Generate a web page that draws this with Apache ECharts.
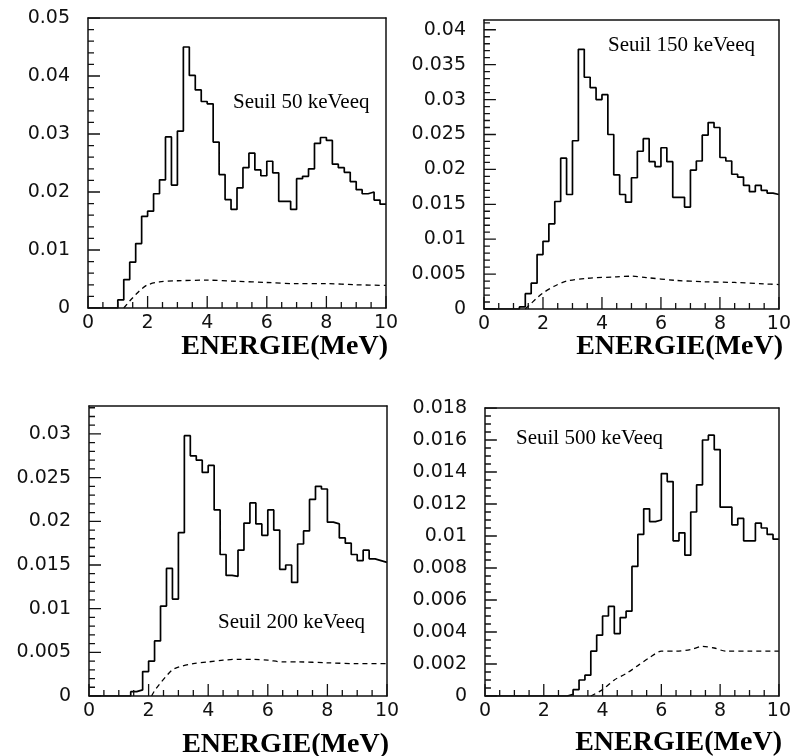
<!DOCTYPE html>
<html>
<head>
<meta charset="utf-8">
<script src="https://cdn.jsdelivr.net/npm/echarts@6/dist/echarts.min.js"></script>
</head>
<body style="margin:0">
<div id="c" style="width:794px;height:756px"></div>
<script>
// Bin lower edges (MeV), plus the upper edge 10 to close the last bin
const binEdges = [0,0.2,0.4,0.6,0.8,1.0,1.2,1.4,1.6,1.8,2.0,2.2,2.4,2.6,2.8,3.0,3.2,3.4,3.6,3.8,
  4.0,4.2,4.4,4.6,4.8,5.0,5.2,5.4,5.6,5.8,6.0,6.2,6.4,6.6,6.8,7.0,7.2,7.4,7.6,7.8,
  8.0,8.2,8.4,8.6,8.8,9.0,9.2,9.4,9.6,9.8,10.0];

const xTickLabels = ['0','2','4','6','8','10'];

// Histogram contents, threshold 50 keVeeq
const hist50 = [0,0,0,0,0,0.0014,0.0049,0.0079,0.0111,0.0158,
  0.0167,0.0197,0.0221,0.0295,0.0212,0.0305,0.0450,0.0401,0.0376,0.0356,
  0.0352,0.0286,0.0230,0.0187,0.0170,0.0207,0.0242,0.0267,0.0238,0.0228,
  0.0253,0.0233,0.0184,0.0184,0.0170,0.0223,0.0227,0.0240,0.0284,0.0294,
  0.0289,0.0248,0.0242,0.0234,0.0218,0.0204,0.0197,0.0200,0.0186,0.0179];
// threshold 150 keVeeq
const hist150 = [0,0,0,0,0,0,0.0003,0.0022,0.0037,0.0078,
  0.0097,0.0122,0.0154,0.0216,0.0164,0.0241,0.0372,0.0332,0.0317,0.0300,
  0.0307,0.0250,0.0192,0.0164,0.0153,0.0188,0.0226,0.0244,0.0211,0.0204,
  0.0231,0.0211,0.0160,0.0160,0.0146,0.0199,0.0212,0.0249,0.0267,0.0260,
  0.0217,0.0212,0.0193,0.0189,0.0177,0.0168,0.0177,0.0170,0.0166,0.0164];
// threshold 200 keVeeq
const hist200 = [0,0,0,0,0,0,0,0.0005,0.0007,0.0028,
  0.0040,0.0063,0.0103,0.0146,0.0111,0.0187,0.0298,0.0275,0.0270,0.0256,
  0.0264,0.0213,0.0162,0.0138,0.0137,0.0167,0.0198,0.0221,0.0197,0.0184,
  0.0213,0.0190,0.0145,0.0150,0.0130,0.0174,0.0189,0.0225,0.0240,0.0237,
  0.0199,0.0197,0.0181,0.0175,0.0162,0.0155,0.0167,0.0157,0.0155,0.0153];
// threshold 500 keVeeq
const hist500 = [0,0,0,0,0,0,0,0,0,0,
  0,0,0,0,0.0001,0.0004,0.0010,0.0013,0.0028,0.0038,
  0.0050,0.0056,0.0039,0.0049,0.0053,0.0081,0.0101,0.0117,0.0109,0.0110,
  0.0139,0.0134,0.0097,0.0102,0.0088,0.0115,0.0132,0.0160,0.0163,0.0154,
  0.0118,0.0118,0.0107,0.0111,0.0097,0.0097,0.0108,0.0105,0.0101,0.0098];

// Dashed curves [energy, value]
const dash50 = [[1.2,0],[1.4,0.0012],[1.6,0.0023],[1.8,0.0033],[2.0,0.0040],[2.4,0.0045],
  [3.0,0.0047],[4.0,0.0048],[5.0,0.0046],[6.0,0.0044],[7.0,0.0042],[8.0,0.0042],[9.0,0.0040],[10.0,0.0039]];
const dash150 = [[1.4,0],[1.6,0.0008],[1.8,0.0016],[2.0,0.0023],[2.4,0.0033],[2.8,0.0040],
  [3.5,0.0044],[4.5,0.0046],[5.0,0.0047],[5.5,0.0045],[6.5,0.0041],[7.5,0.0039],[8.5,0.0038],[9.5,0.0036],[10.0,0.0035]];
const dash200 = [[2.1,0],[2.2,0.0006],[2.4,0.0015],[2.6,0.0023],[2.8,0.0030],[3.0,0.0033],
  [3.5,0.0037],[4.0,0.0039],[4.5,0.0041],[5.0,0.0042],[5.5,0.0042],[6.0,0.0041],[6.5,0.0039],
  [7.0,0.0039],[8.0,0.0038],[9.0,0.0037],[10.0,0.0037]];
const dash500 = [[3.6,0],[4.0,0.0004],[4.4,0.0010],[4.8,0.0014],[5.2,0.0019],[5.6,0.0024],
  [6.0,0.0028],[6.5,0.0028],[7.0,0.0029],[7.4,0.0031],[7.8,0.0030],[8.2,0.0028],[9.0,0.0028],[10.0,0.0028]];

const labels = ['Seuil 50 keVeeq','Seuil 150 keVeeq','Seuil 200 keVeeq','Seuil 500 keVeeq'];
const axisTitle = 'ENERGIE(MeV)';

const yMax = [0.05, 0.0414, 0.0332, 0.018];
const yInterval = [0.01, 0.005, 0.005, 0.002];
const yMinorSplit = [5, 5, 5, 4];
const xInterval = 2, xMinorSplit = 4, xMax = 10;

const grids = [
  {left:88, top:18, width:298, height:290},
  {left:484, top:20, width:297, height:289},
  {left:89, top:406, width:298, height:290},
  {left:485, top:408, width:297, height:288}
];

function histData(vals){
  return binEdges.map((e,i)=>[e, vals[Math.min(i, vals.length-1)]]);
}

// Inside tick marks (PAW style) as short segments, broken apart by NaN gaps
const MAJOR_LEN = 12, MINOR_LEN = 6;
function tickSegments(i){
  const g = grids[i];
  const out = [];
  const xStep = xInterval / xMinorSplit;
  for (let k = 0; k * xStep <= xMax + 1e-9; k++) {
    const v = k * xStep;
    const len = (k % xMinorSplit === 0) ? MAJOR_LEN : MINOR_LEN;
    out.push([v, 0], [v, len / g.height * yMax[i]], [NaN, NaN]);
  }
  const yStep = yInterval[i] / yMinorSplit[i];
  for (let k = 0; k * yStep <= yMax[i] + 1e-12; k++) {
    const v = k * yStep;
    const len = (k % yMinorSplit[i] === 0) ? MAJOR_LEN : MINOR_LEN;
    out.push([0, v], [len / g.width * xMax, v], [NaN, NaN]);
  }
  return out;
}

const FONT = 'DejaVu Sans';
const FS = 19;
const ink = '#111';

const xAxes = [];
const yAxes = [];
grids.forEach((g,i)=>{
  xAxes.push({
    type:'value', gridIndex:i, position:'bottom', min:0, max:xMax, interval:xInterval, z:10,
    axisLine:{show:true, onZero:false, lineStyle:{color:ink, width:1.5}},
    axisTick:{show:false}, minorTick:{show:false},
    splitLine:{show:false}, minorSplitLine:{show:false},
    axisLabel:{margin:6, fontFamily:FONT, fontSize:FS, color:ink,
      formatter:(v)=>{const k=Math.round(v/xInterval); return Math.abs(v-xInterval*k)<1e-6 ? xTickLabels[k] : '';}}
  });
  yAxes.push({
    type:'value', gridIndex:i, position:'left', min:0, max:yMax[i], interval:yInterval[i], z:10,
    axisLine:{show:true, onZero:false, lineStyle:{color:ink, width:1.5}},
    axisTick:{show:false}, minorTick:{show:false},
    splitLine:{show:false}, minorSplitLine:{show:false},
    axisLabel:{margin:18, fontFamily:FONT, fontSize:FS, color:ink,
      formatter:(v)=>{
        const k = Math.round(v/yInterval[i]);
        if (Math.abs(v - k*yInterval[i]) > 1e-9) return '';
        return String(+(k*yInterval[i]).toFixed(4));
      }}
  });
});
grids.forEach((g,i)=>{
  xAxes.push({type:'value', gridIndex:i, position:'top', min:0, max:xMax, z:10,
    axisLine:{show:true, onZero:false, lineStyle:{color:ink, width:1.5}},
    axisTick:{show:false}, minorTick:{show:false}, axisLabel:{show:false}, splitLine:{show:false}});
  yAxes.push({type:'value', gridIndex:i, position:'right', min:0, max:yMax[i], z:10,
    axisLine:{show:true, onZero:false, lineStyle:{color:ink, width:1.5}},
    axisTick:{show:false}, minorTick:{show:false}, axisLabel:{show:false}, splitLine:{show:false}});
});

const hists = [hist50, hist150, hist200, hist500];
const dashes = [dash50, dash150, dash200, dash500];

const series = [];
hists.forEach((h,i)=>{
  series.push({type:'line', xAxisIndex:i, yAxisIndex:i, data:histData(h), step:'end',
    showSymbol:false, lineStyle:{color:'#000', width:1.7}});
  series.push({type:'line', xAxisIndex:i, yAxisIndex:i, data:dashes[i], smooth:0.3,
    showSymbol:false, lineStyle:{color:'#000', width:1.3, type:[5,4]}});
  series.push({type:'line', xAxisIndex:i, yAxisIndex:i, data:tickSegments(i),
    showSymbol:false, connectNulls:false, silent:true,
    lineStyle:{color:ink, width:1.3}});
});

const labelPos = [[233,102],[608,45],[218,622],[516,438]];
const titlePos = [[388,347],[783,347],[389,745],[782,743]];

const graphics = [];
labels.forEach((t,i)=>{
  graphics.push({type:'text', x:labelPos[i][0], y:labelPos[i][1],
    style:{text:t, font:"21px 'Liberation Serif', serif", fill:'#000', textAlign:'left', textVerticalAlign:'middle'}});
  graphics.push({type:'text', x:titlePos[i][0], y:titlePos[i][1],
    style:{text:axisTitle, font:"bold 28px 'Liberation Serif', serif", fill:'#000', textAlign:'right', textVerticalAlign:'middle'}});
});

const chart = echarts.init(document.getElementById('c'));
chart.setOption({
  animation:false,
  grid: grids,
  xAxis: xAxes,
  yAxis: yAxes,
  series: series,
  graphic: graphics
});
</script>
</body>
</html>
